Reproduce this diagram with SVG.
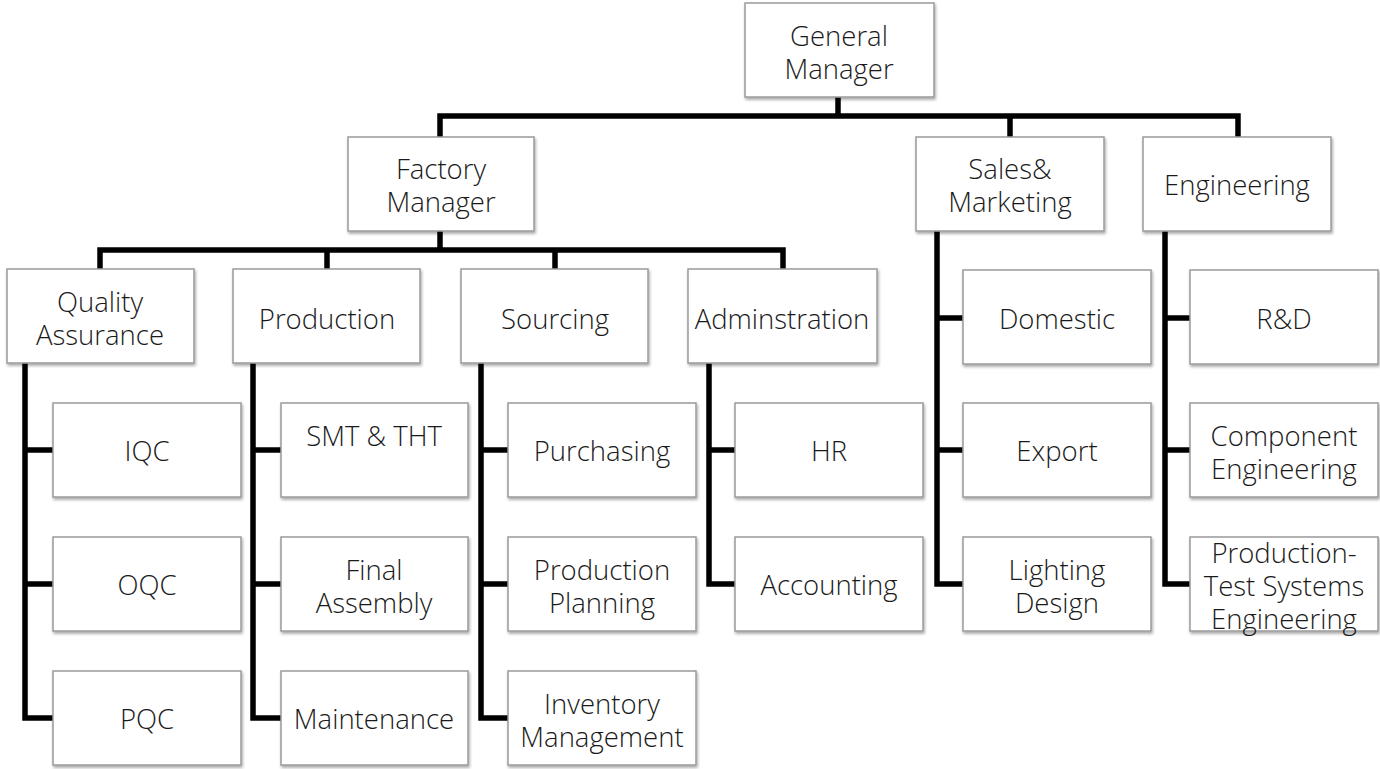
<svg xmlns="http://www.w3.org/2000/svg" width="1380" height="769" viewBox="0 0 1380 769">
<defs>
<filter id="sh" x="-10%" y="-10%" width="130%" height="130%">
<feDropShadow dx="1" dy="2" stdDeviation="1.5" flood-color="#000" flood-opacity="0.35"/>
</filter>
</defs>
<style>
.b{fill:#fff;stroke:#9a9a9a;stroke-width:1.5;filter:url(#sh)}
.t{font-family:"Open Sans","Lato","Liberation Sans",sans-serif;font-weight:300;font-size:27.5px;fill:#1a1a1a;text-anchor:middle;dominant-baseline:central}
.c{fill:none;stroke:#000;stroke-width:5.5;stroke-linejoin:miter;stroke-linecap:square}
</style>
<rect width="1380" height="769" fill="#fff"/>
<g id="connectors">
<path class="c" d="M838 97V116M440 137V116H1238V137M1010 116V137"/>
<path class="c" d="M440 231V250M100 269V250H783V269M327 250V269M555 250V269"/>
<path class="c" d="M25 363V718H53M25 450H53M25 584H53"/>
<path class="c" d="M253 363V718H281M253 450H281M253 584H281"/>
<path class="c" d="M481 363V718H508M481 450H508M481 584H508"/>
<path class="c" d="M709 363V584H735M709 450H735"/>
<path class="c" d="M937 231V584H963M937 318H963M937 450H963"/>
<path class="c" d="M1165 231V584H1190M1165 318H1190M1165 450H1190"/>
</g>
<g id="gm"><rect class="b" x="745" y="3" width="189" height="94"/><text class="t" x="839" y="35">General</text><text class="t" x="839" y="68">Manager</text></g>
<g id="fm"><rect class="b" x="348" y="137" width="186" height="94"/><text class="t" x="441" y="168">Factory</text><text class="t" x="441" y="201">Manager</text></g>
<g id="sm"><rect class="b" x="916" y="137" width="188" height="94"/><text class="t" x="1010" y="168">Sales&amp;</text><text class="t" x="1010" y="201">Marketing</text></g>
<g id="eng"><rect class="b" x="1143" y="137" width="188" height="94"/><text class="t" x="1237" y="184">Engineering</text></g>
<g id="qa"><rect class="b" x="7" y="269" width="187" height="94"/><text class="t" x="100" y="301">Quality</text><text class="t" x="100" y="334">Assurance</text></g>
<g id="prod"><rect class="b" x="233" y="269" width="187" height="94"/><text class="t" x="327" y="318">Production</text></g>
<g id="src"><rect class="b" x="461" y="269" width="187" height="94"/><text class="t" x="555" y="318">Sourcing</text></g>
<g id="adm"><rect class="b" x="688" y="269" width="189" height="94"/><text class="t" x="782" y="318">Adminstration</text></g>
<g id="iqc"><rect class="b" x="53" y="403" width="188" height="94"/><text class="t" x="147" y="450">IQC</text></g>
<g id="oqc"><rect class="b" x="53" y="537" width="188" height="94"/><text class="t" x="147" y="584">OQC</text></g>
<g id="pqc"><rect class="b" x="53" y="671" width="188" height="94"/><text class="t" x="147" y="718">PQC</text></g>
<g id="smt"><rect class="b" x="281" y="403" width="187" height="94"/><text class="t" x="374" y="435">SMT &amp; THT</text></g>
<g id="fa"><rect class="b" x="281" y="537" width="187" height="94"/><text class="t" x="374" y="569">Final</text><text class="t" x="374" y="602">Assembly</text></g>
<g id="mnt"><rect class="b" x="281" y="671" width="187" height="94"/><text class="t" x="374" y="718">Maintenance</text></g>
<g id="pur"><rect class="b" x="508" y="403" width="188" height="94"/><text class="t" x="602" y="450">Purchasing</text></g>
<g id="pp"><rect class="b" x="508" y="537" width="188" height="94"/><text class="t" x="602" y="569">Production</text><text class="t" x="602" y="602">Planning</text></g>
<g id="inv"><rect class="b" x="508" y="671" width="188" height="94"/><text class="t" x="602" y="703">Inventory</text><text class="t" x="602" y="736">Management</text></g>
<g id="hr"><rect class="b" x="735" y="403" width="188" height="94"/><text class="t" x="829" y="450">HR</text></g>
<g id="acc"><rect class="b" x="735" y="537" width="188" height="94"/><text class="t" x="829" y="584">Accounting</text></g>
<g id="dom"><rect class="b" x="963" y="270" width="188" height="94"/><text class="t" x="1057" y="318">Domestic</text></g>
<g id="exp"><rect class="b" x="963" y="403" width="188" height="94"/><text class="t" x="1057" y="450">Export</text></g>
<g id="ld"><rect class="b" x="963" y="537" width="188" height="94"/><text class="t" x="1057" y="569">Lighting</text><text class="t" x="1057" y="602">Design</text></g>
<g id="rd"><rect class="b" x="1190" y="270" width="188" height="94"/><text class="t" x="1284" y="318">R&amp;D</text></g>
<g id="ce"><rect class="b" x="1190" y="403" width="188" height="94"/><text class="t" x="1284" y="435">Component</text><text class="t" x="1284" y="468">Engineering</text></g>
<g id="pts"><rect class="b" x="1190" y="537" width="188" height="94"/><text class="t" x="1284" y="552">Production-</text><text class="t" x="1284" y="585">Test Systems</text><text class="t" x="1284" y="618">Engineering</text></g>
</svg>
